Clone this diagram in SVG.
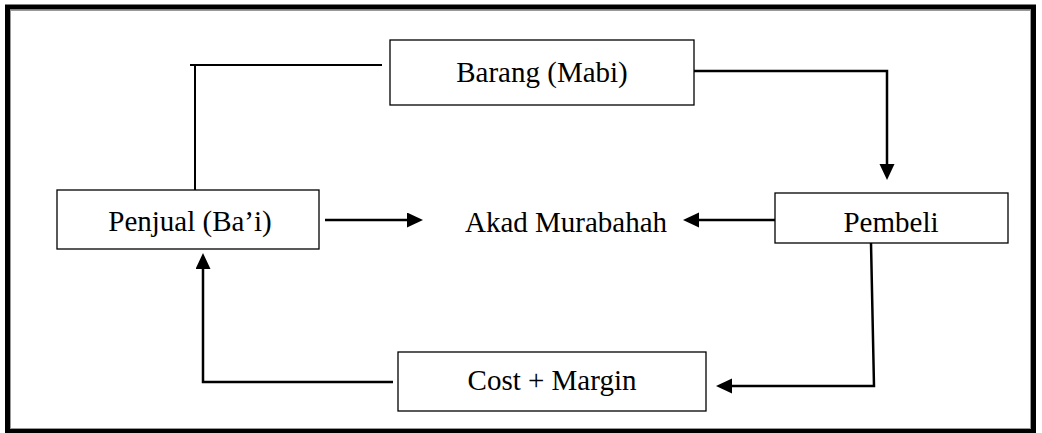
<svg xmlns="http://www.w3.org/2000/svg" width="1042" height="433" viewBox="0 0 1042 433">
<style>
.box{fill:#fff;stroke:#000;stroke-width:1.3}
.lbl{font-family:"Liberation Serif","Times New Roman",serif;font-size:29px;fill:#000;text-anchor:middle}
.ln{fill:none;stroke:#000;stroke-width:2}
.ar{fill:none;stroke:#000;stroke-width:2.5}
</style>
<defs>
<marker id="ah" markerUnits="userSpaceOnUse" markerWidth="18" markerHeight="16" refX="12" refY="7.5" orient="auto">
<path d="M0,0 L16,7.5 L0,15 z" fill="#000"/>
</marker>
</defs>
<rect x="0" y="0" width="1042" height="433" fill="#fff"/>
<rect x="7.5" y="7" width="1026" height="424" fill="none" stroke="#000" stroke-width="5"/>
<rect x="10.5" y="10.5" width="1020" height="418" fill="none" stroke="#999" stroke-width="1"/>
<g id="connectors">
<line class="ln" x1="382" y1="65" x2="190" y2="65"/>
<line class="ln" x1="195" y1="65" x2="195" y2="190"/>
<polyline class="ar" points="694,71 887,71 887,176" marker-end="url(#ah)"/>
<line class="ar" x1="325" y1="220" x2="419" y2="220" marker-end="url(#ah)"/>
<line class="ar" x1="776" y1="220" x2="687" y2="220" marker-end="url(#ah)"/>
<polyline class="ar" points="871,243 874,386 720,386" marker-end="url(#ah)"/>
<polyline class="ar" points="393,382 203,382 203,257" marker-end="url(#ah)"/>
</g>
<g id="barang">
<rect class="box" x="390" y="40" width="304" height="65"/>
<text class="lbl" x="542" y="82">Barang (Mabi)</text>
</g>
<g id="penjual">
<rect class="box" x="57" y="190" width="262" height="59"/>
<text class="lbl" x="190" y="231">Penjual (Ba’i)</text>
</g>
<g id="akad">
<text class="lbl" x="566" y="232">Akad Murabahah</text>
</g>
<g id="pembeli">
<rect class="box" x="775" y="193" width="233" height="50"/>
<text class="lbl" x="891" y="232">Pembeli</text>
</g>
<g id="cost">
<rect class="box" x="398" y="352" width="308" height="59"/>
<text class="lbl" x="552" y="390">Cost + Margin</text>
</g>
</svg>
